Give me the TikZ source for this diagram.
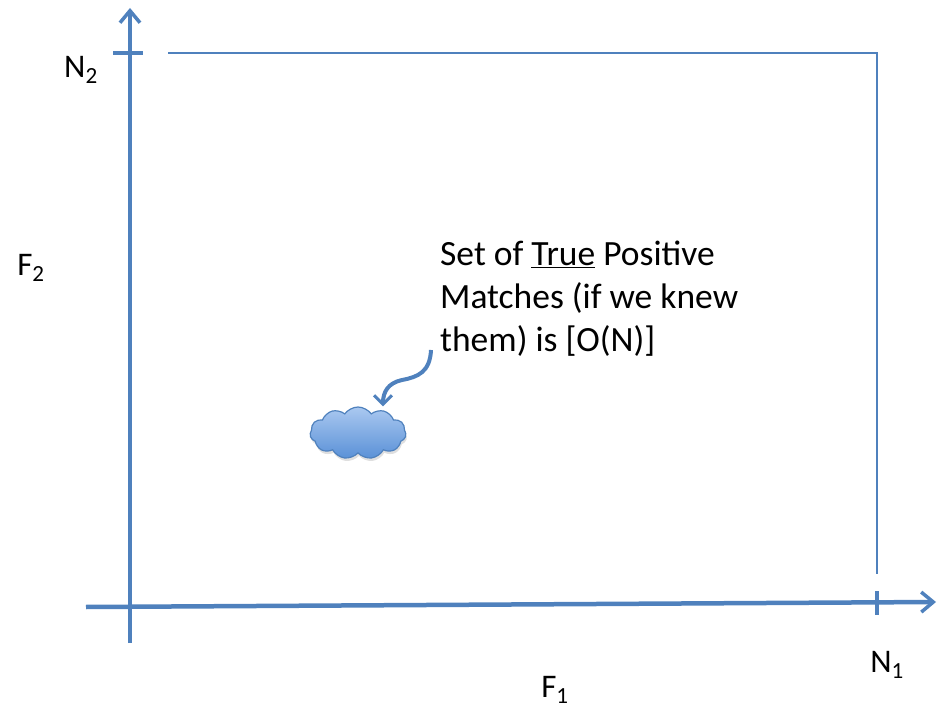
\documentclass[tikz,border=0pt]{standalone}
\usepackage{fontspec}
\setmainfont{Carlito}
\usetikzlibrary{arrows.meta,shapes.symbols,shadows}
\definecolor{axisblue}{RGB}{79,129,189}
\definecolor{cloudtop}{RGB}{170,200,240}
\definecolor{cloudbot}{RGB}{90,145,215}
\tikzset{
  axisline/.style={draw=axisblue,line width=4.5pt},
  thinline/.style={draw=axisblue,line width=1.5pt},
  lbl/.style={font=\fontsize{33}{38}\selectfont,inner sep=0pt},
  note/.style={font=\fontsize{35.5}{43}\selectfont,align=left,inner sep=0pt,anchor=north west},
  axisarrow/.style={-{Straight Barb[length=12pt,width=20pt,line width=3.5pt]}}
}
\begin{document}
\begin{tikzpicture}[x=1pt,y=-1pt]
\useasboundingbox (0,0) rectangle (937,708);
% axes
\coordinate (ybot) at (130,643);
\coordinate (ytop) at (130,8);
\coordinate (xleft) at (86,607);
\coordinate (xright) at (936,602);
\draw[axisline,axisarrow] (ybot) -- (ytop);
\draw[axisline,axisarrow] (xleft) -- (xright);
% ticks
\coordinate (t2a) at (113,53);
\coordinate (t2b) at (143,53);
\draw[axisline,line width=3.5pt] (t2a) -- (t2b);
\coordinate (t1a) at (877,591);
\coordinate (t1b) at (877,615);
\draw[axisline,line width=3.5pt] (t1a) -- (t1b);
% rectangle
\coordinate (r1) at (168,53);
\coordinate (r2) at (877,53);
\coordinate (r3) at (877,574);
\draw[thinline] (r1) -- (r2) -- (r3);
% labels
\node[lbl] (n2) at (81,70) {N\textsubscript{2}};
\node[lbl] (f2) at (31,268) {F\textsubscript{2}};
\node[lbl] (f1) at (555,690) {F\textsubscript{1}};
\node[lbl] (n1) at (887,665) {N\textsubscript{1}};
% note
\node[note] (txt) at (440,241) {Set of \underline{True} Positive\\Matches (if we knew\\them) is [O(N)]};
% cloud
\node[cloud, cloud puffs=11, cloud puff arc=110, aspect=2.2, minimum width=96pt, minimum height=52pt,
      top color=cloudtop, bottom color=cloudbot, draw=axisblue, line width=1.2pt,
      drop shadow={opacity=0.25,shadow xshift=1pt,shadow yshift=-3pt}] (cloud) at (358,433) {};
% curvy arrow
\coordinate (cs) at (431,350);
\draw[axisblue,line width=4pt,-{Straight Barb[length=9pt,width=18pt,line width=3pt]}]
  (cs) .. controls (430,372) and (418,377) .. (402,380)
  .. controls (388,383) and (383,392) .. (cloud.north -| 383,0);
\end{tikzpicture}
\end{document}
